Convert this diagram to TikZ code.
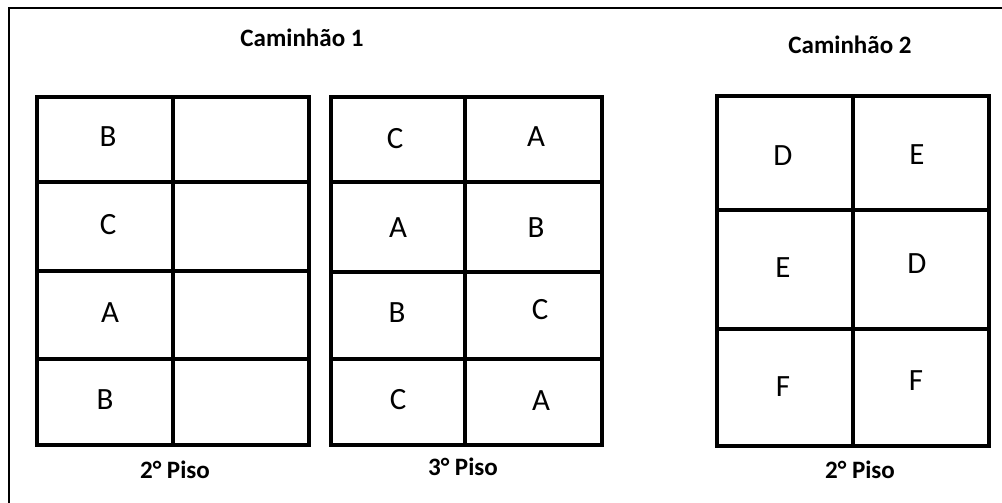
\documentclass[tikz,border=0pt]{standalone}
\usepackage{fontspec}
\setmainfont{Carlito}
\begin{document}
\begin{tikzpicture}[x=0.025cm, y=-0.025cm, line width=2.4pt,
  cell/.style={inner sep=0pt, font=\fontsize{22}{24}\selectfont},
  title/.style={inner sep=0pt, font=\bfseries\fontsize{17.8}{20}\selectfont}]
  \useasboundingbox (0,0) rectangle (1002,503);
  % frame (only top and left visible)
  \draw[line width=1.6pt] (9,503) -- (9,8) -- (1002,8);
  % titles
  \node[title] (tit1) at (302,38) {Caminhão 1};
  \node[title] (tit2) at (850,45) {Caminhão 2};
  % truck 1, 2nd floor
  \draw (37,97) rectangle (309,445);
  \draw (173,97) -- (173,445);
  \draw (37,182) -- (309,182);
  \draw (37,271) -- (309,271);
  \draw (37,359) -- (309,359);
  \node[cell] (a1) at (108,137) {B};
  \node[cell] (a2) at (108,225) {C};
  \node[cell] (a3) at (110,313) {A};
  \node[cell] (a4) at (105,400) {B};
  \node[title] (piso1) at (175,470) {2° Piso};
  % truck 1, 3rd floor
  \draw (331,97) rectangle (602,445);
  \draw (465,97) -- (465,445);
  \draw (331,182) -- (602,182);
  \draw (331,272) -- (602,272);
  \draw (331,359) -- (602,359);
  \node[cell] (b1) at (395,139) {C};
  \node[cell] (b2) at (536,137) {A};
  \node[cell] (b3) at (398,228) {A};
  \node[cell] (b4) at (536,228) {B};
  \node[cell] (b5) at (397,313) {B};
  \node[cell] (b6) at (540,310) {C};
  \node[cell] (b7) at (398,400) {C};
  \node[cell] (b8) at (541,401) {A};
  \node[title] (piso2) at (463,467) {3° Piso};
  % truck 2, 2nd floor
  \draw (717,96) rectangle (989,446);
  \draw (853,96) -- (853,446);
  \draw (717,210) -- (989,210);
  \draw (717,329) -- (989,329);
  \node[cell] (c1) at (783,156) {D};
  \node[cell] (c2) at (917,155) {E};
  \node[cell] (c3) at (783,268) {E};
  \node[cell] (c4) at (917,264) {D};
  \node[cell] (c5) at (783,387) {F};
  \node[cell] (c6) at (916,381) {F};
  \node[title] (piso3) at (860,470) {2° Piso};
\end{tikzpicture}
\end{document}
